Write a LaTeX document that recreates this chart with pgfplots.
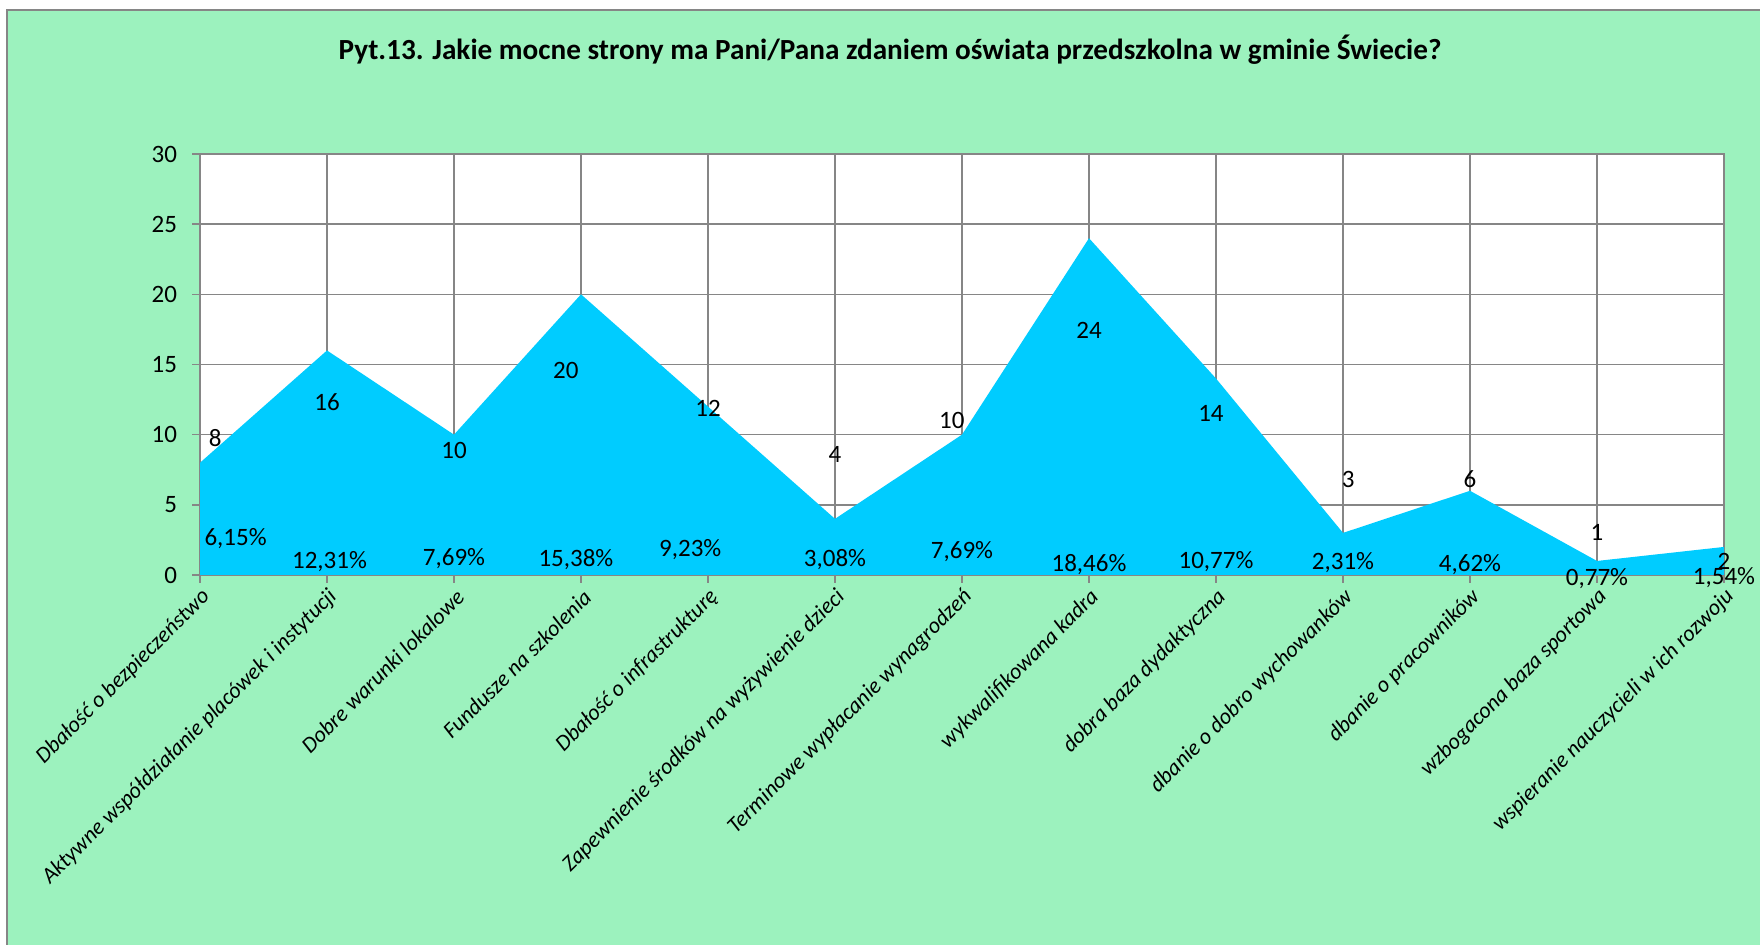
\documentclass[border=0pt]{standalone}
\usepackage{fontspec}
\setmainfont{Carlito}
\usepackage{pgfplots}
\usepackage{pgfplotstable}
\pgfplotsset{compat=1.18}
\definecolor{bggreen}{RGB}{156,242,190}
\definecolor{areablue}{RGB}{0,204,255}
\definecolor{gridgray}{RGB}{134,134,134}

\pgfplotstableread{
x y
0 8
1 16
2 10
3 20
4 12
5 4
6 10
7 24
8 14
9 3
10 6
11 1
12 2
}\maindata

\pgfplotstableread{
x y lab
0.12 9.76 8
1 12.3 16
2 8.9 10
2.88 14.6 20
4 11.9 12
5 8.6 4
5.92 11.0 10
7 17.4 24
7.96 11.5 14
9.04 6.8 3
10 6.8 6
11 3.0 1
12 0.96 2
}\vallabels

\pgfplotstableread{
x y lab
0.28 2.56 6,15
1.02 0.96 12,31
2 1.2 7,69
2.96 1.1 15,38
3.86 1.84 9,23
5 1.1 3,08
6 1.68 7,69
7 0.72 18,46
8 0.96 10,77
9 0.88 2,31
10 0.72 4,62
11 -0.24 0,77
12 -0.16 1,54
}\pctlabels

\begin{document}
\begin{tikzpicture}
\path[use as bounding box] (0pt,0pt) rectangle (880pt,472.5pt);
\begin{scope}
\clip (0pt,0pt) rectangle (880pt,472.5pt);
\fill[white] (0pt,0pt) rectangle (880pt,472.5pt);
\filldraw[fill=bggreen, draw=gridgray, line width=0.8pt] (3.5pt,-10pt) rectangle (890pt,467.5pt);
\end{scope}
\node[font=\bfseries\fontsize{14.6}{16}\selectfont] at (445pt,447.5pt) {Pyt.13. Jakie mocne strony ma Pani/Pana zdaniem oświata przedszkolna w gminie Świecie?};
\begin{axis}[
  at={(100pt,185pt)}, anchor=south west,
  scale only axis, width=762pt, height=210.5pt,
  xmin=0, xmax=12, ymin=0, ymax=30,
  enlargelimits=false, clip=false,
  xtick={0,...,12}, ytick={0,5,...,30},
  xtick pos=bottom, ytick pos=left,
  xticklabels={Dbałość o bezpieczeństwo, Aktywne współdziałanie placówek i instytucji, Dobre warunki lokalowe, Fundusze na szkolenia, Dbałość o infrastrukturę, Zapewnienie środków na wyżywienie dzieci, Terminowe wypłacanie wynagrodzeń, wykwalifikowana kadra, dobra baza dydaktyczna, dbanie o dobro wychowanków, dbanie o pracowników, wzbogacona baza sportowa, wspieranie nauczycieli w ich rozwoju},
  grid=major,
  major grid style={gridgray, line width=0.75pt},
  axis line style={gridgray, line width=0.75pt},
  tick style={gridgray, line width=0.75pt},
  tick align=outside, major tick length=4pt,
  axis background/.style={fill=white},
  /pgf/number format/assume math mode=true,
  yticklabel style={font=\fontsize{12.5}{14}\selectfont, xshift=-4pt},
  xticklabel style={rotate=45, anchor=east, font=\itshape\fontsize{11.2}{13}\selectfont, yshift=-6pt, xshift=2pt},
]
\addplot[fill=areablue, draw=none] table[x=x,y=y] {\maindata} \closedcycle;
\addplot[draw=none, mark=none, forget plot, nodes near coords, point meta=explicit symbolic,
  every node near coord/.style={anchor=center, font=\fontsize{12.5}{14}\selectfont, inner sep=0pt}]
  table[x=x,y=y,meta=lab] {\vallabels};
\addplot[draw=none, mark=none, forget plot, nodes near coords={\pgfplotspointmeta\%}, point meta=explicit symbolic,
  every node near coord/.style={anchor=center, font=\fontsize{12.5}{14}\selectfont, inner sep=0pt}]
  table[x=x,y=y,meta=lab] {\pctlabels};
\end{axis}
\end{tikzpicture}
\end{document}
